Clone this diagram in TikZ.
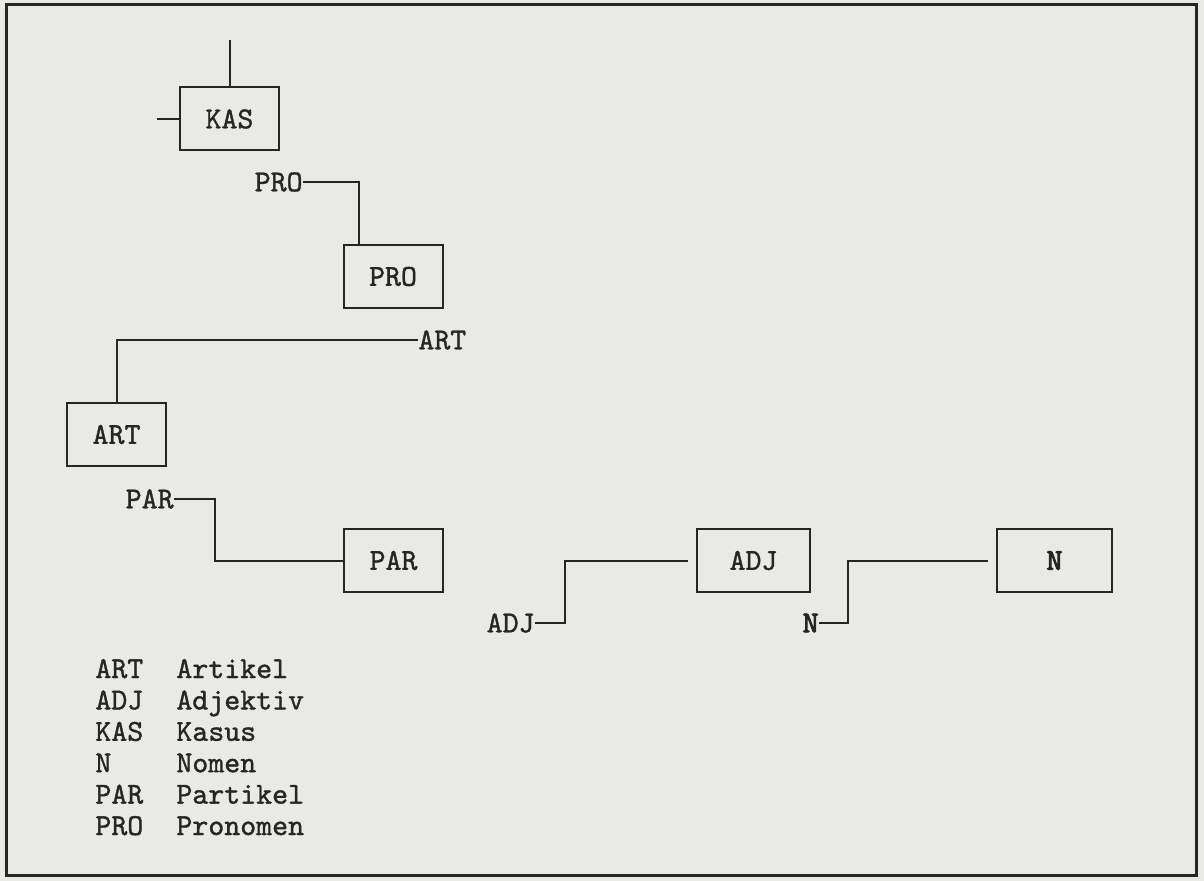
\documentclass[tikz,border=0pt]{standalone}
\usepackage{fontspec}
\newfontfamily\heavytt[FakeBold=1.2]{lmmono10-regular.otf}
\newfontfamily\boldtt[FakeBold=3]{lmmono10-regular.otf}
\definecolor{paper}{RGB}{233,233,230}
\definecolor{ink}{RGB}{38,38,38}
\tikzset{
  txt/.style={font=\heavytt\fontsize{15.2}{18}\selectfont, text=ink},
  box/.style={txt, draw=ink, line width=1pt, minimum width=49.5pt, minimum height=31.5pt, inner sep=0pt},
  lbl/.style={txt, inner sep=0pt},
  wire/.style={draw=ink, line width=1pt},
  legend/.style={txt, inner sep=0pt, anchor=base west}
}
\begin{document}
\begin{tikzpicture}[x=0.5pt,y=-0.5pt]
\fill[paper] (0,0) rectangle (1204,881);
\useasboundingbox (0,0) rectangle (1204,881);
\draw[ink, line width=1.5pt] (6,5) rectangle (1196,875);

% KAS
\node[box] (kas) at (229.5,119) {KAS};
\coordinate (kastop) at (229.5,40);
\coordinate (kasleft) at (157,119);
\draw[wire] (kastop) -- (kas.north);
\draw[wire] (kasleft) -- (kas.west);

% PRO
\node[lbl, anchor=east] (prol) at (303,182) {PRO};
\node[box] (pro) at (393,276.5) {PRO};
\draw[wire] (prol.east) -| ([xshift=8pt]pro.north west);

% ART
\node[lbl, anchor=west] (artl) at (418,340) {ART};
\node[box] (art) at (116.5,434.5) {ART};
\draw[wire] (artl.west) -| (art.north);

% PAR
\node[lbl, anchor=east] (parl) at (174,499) {PAR};
\node[box] (par) at (393.5,560.5) {PAR};
\draw[wire] (parl.east) -- ++(41,0) |- (par.west);

% ADJ
\node[lbl, anchor=east] (adjl) at (535,623) {ADJ};
\node[box, minimum width=56.5pt] (adj) at (753.5,560.5) {ADJ};
\draw[wire, shorten >=4pt] (adjl.east) -- ++(30,0) |- (adj.west);

% N
\node[lbl, anchor=east] (nl) at (819,623) {\boldtt N};
\node[box, minimum width=57.5pt] (n) at (1054.5,560.5) {\boldtt N};
\draw[wire, shorten >=4pt] (nl.east) -- ++(29,0) |- (n.west);

% Legend
\foreach \a/\b [count=\i from 0] in {ART/Artikel, ADJ/Adjektiv, KAS/Kasus, N/Nomen, PAR/Partikel, PRO/Pronomen}{
  \node[legend] (lga\i) at (95,678+31.4*\i) {\a};
  \node[legend] (lgb\i) at (176,678+31.4*\i) {\b};
}
\end{tikzpicture}
\end{document}
